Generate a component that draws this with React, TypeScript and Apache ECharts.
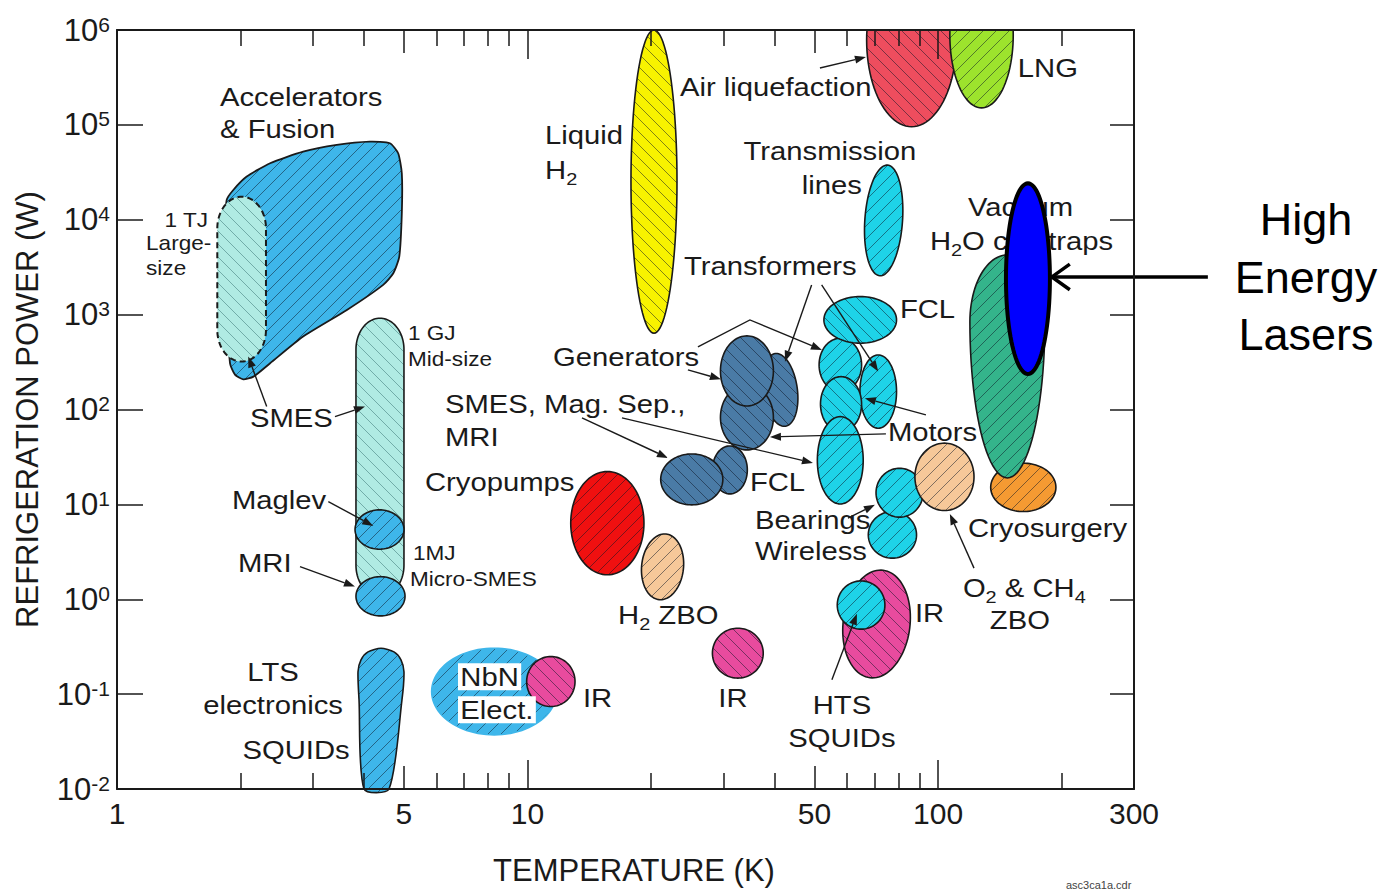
import React, { useEffect, useRef } from "react";
import * as echarts from "echarts";

const FONT = "'Liberation Sans', Arial, Helvetica, sans-serif";
const INK = "#1a1a1a";

// ---------- axes ----------
const T_MAX = 300;
const P_MIN_EXP = -2;
const P_MAX_EXP = 6;
const X_LABELS = [1, 5, 10, 50, 100, 300];
const X_MAJOR_TICKS = [1, 10, 100];
const X_MID_TICKS = [5, 50];
const X_MINOR_TICKS = [2, 3, 4, 6, 7, 8, 9, 20, 30, 40, 60, 70, 80, 90, 200];

// ---------- regions (temperature K, refrigeration power W) ----------
const ACCEL_FUSION: number[][] = [
  [1.85, 1.62e4], [1.92, 2.06e4], [2.07, 2.85e4], [2.36, 3.94e4], [2.84, 5.22e4],
  [3.43, 6.14e4], [4.13, 6.65e4], [4.62, 6.4e4], [4.84, 5.02e4], [4.94, 3.09e4],
  [4.94, 1.17e4], [4.87, 4.08e3], [4.71, 2.73e3], [4.45, 2.06e3], [3.63, 1.12e3],
  [2.84, 587], [2.36, 307], [2.15, 222], [2.03, 208], [1.94, 232], [1.885, 307],
  [1.825, 2.32e3], [1.832, 7.81e3],
];

const LTS_SQUIDS: number[][] = [
  [3.996, 0.01], [3.886, 0.0871], [3.864, 0.172], [3.929, 0.23], [4.087, 0.279],
  [4.395, 0.304], [4.727, 0.279], [4.917, 0.23], [5.0, 0.172], [4.944, 0.0871], [4.597, 0.01],
];

// [id, T min, T max, P min, P max] in drawing order
const REGIONS: [string, number, number, number, number][] = [
  ["smesTJ", 1.755, 2.306, 320, 1.75e4],
  ["smesGJ", 3.82, 5.0, 1.07, 916],
  ["maglev", 3.8, 5.0, 3.37, 8.75],
  ["mriLow", 3.82, 5.03, 0.668, 1.73],
  ["nbn", 5.84, 11.78, 0.0372, 0.305],
  ["irNbn", 9.95, 13.05, 0.074, 0.249],
  ["irMid", 28.2, 37.5, 0.1475, 0.495],
  ["liquidH2", 17.86, 23.12, 637, 1.0e6],
  ["airLiq", 66.97, 110.9, 9.57e4, 6.46e6],
  ["lng", 106.8, 152.4, 1.51e5, 5.2e6],
  ["transLines", 66.3, 81.9, 2.56e3, 3.78e4],
  ["cryosurgery", 134.3, 193.6, 8.4, 27.2],
  ["vacuum", 119.5, 182, 19.0, 4.26e3],
  ["wireless", 67.6, 88.6, 2.71, 8.4],
  ["bearings", 70.6, 91.9, 7.33, 24.0],
  ["o2ch4", 87.8, 122.3, 8.61, 44.2],
  ["irBig", 58.7, 85.4, 0.1475, 2.04],
  ["htsSquid", 56.8, 74.2, 0.484, 1.56],
  ["cryopumps", 12.74, 19.21, 1.81, 22.2],
  ["h2zbo", 18.96, 23.98, 0.986, 4.89],
  ["genB", 37.5, 45.4, 66.1, 392],
  ["genC", 29.5, 39.7, 37.5, 181.6],
  ["genA", 29.5, 39.7, 109, 597],
  ["fclDark", 28.2, 34.3, 12.9, 41.3],
  ["smesDark", 21.1, 29.9, 9.88, 34.0],
  ["motorR", 64.5, 79.2, 63.5, 376],
  ["motorB", 51.3, 65.1, 154.5, 564],
  ["motorD", 51.7, 65.1, 58.5, 222],
  ["motorE", 50.8, 65.7, 10.1, 84.1],
  ["fclCyan", 52.7, 79.2, 500, 1549],
];

const LASER: [number, number, number, number] = [146.3, 187.2, 237, 2.42e4];

// [text, T, P, anchor, kind]
const LABELS: [string, number, number, string, string][] = [
  ["Accelerators", 1.782, 1.97e5, "left", "big"],
  ["& Fusion", 1.782, 9.05e4, "left", "big"],
  ["Liquid", 11.03, 7.83e4, "left", "big"],
  ["H{sub|2}", 11.03, 3.35e4, "left", "big"],
  ["Air liquefaction", 23.5, 2.51e5, "left", "big"],
  ["LNG", 156.4, 3.98e5, "left", "big"],
  ["Transmission", 54.5, 5.31e4, "center", "big"],
  ["lines", 65.2, 2.33e4, "right", "big"],
  ["Vacuum", 118.2, 1.364e4, "left", "big"],
  ["H{sub|2}O cryotraps", 95.5, 5.98e3, "left", "big"],
  ["Transformers", 24.04, 3.26e3, "left", "big"],
  ["FCL", 80.7, 1.148e3, "left", "big"],
  ["Generators", 11.53, 358, "left", "big"],
  ["SMES, Mag. Sep.,", 6.293, 114.6, "left", "big"],
  ["MRI", 6.293, 51.4, "left", "big"],
  ["Motors", 75.45, 58.1, "left", "big"],
  ["Cryopumps", 5.625, 17.26, "left", "big"],
  ["FCL", 34.8, 17.26, "left", "big"],
  ["Bearings", 35.79, 6.87, "left", "big"],
  ["Wireless", 35.79, 3.236, "left", "big"],
  ["Cryosurgery", 118.2, 5.65, "left", "big"],
  ["Maglev", 1.906, 11.15, "left", "big"],
  ["SMES", 2.108, 81.5, "left", "big"],
  ["MRI", 1.971, 2.419, "left", "big"],
  ["O{sub|2} & CH{sub|4}", 114.9, 1.318, "left", "big"],
  ["ZBO", 158.2, 0.607, "center", "big"],
  ["H{sub|2} ZBO", 16.61, 0.685, "left", "big"],
  ["IR", 87.8, 0.719, "left", "big"],
  ["LTS", 2.399, 0.172, "center", "big"],
  ["electronics", 2.399, 0.0772, "center", "big"],
  ["SQUIDs", 2.729, 0.0259, "center", "big"],
  ["NbN", 6.77, 0.152, "left", "boxed"],
  ["Elect.", 6.77, 0.0683, "left", "boxed"],
  ["IR", 13.64, 0.0914, "left", "big"],
  ["IR", 31.64, 0.0914, "center", "big"],
  ["HTS", 58.31, 0.0772, "center", "big"],
  ["SQUIDs", 58.31, 0.0346, "center", "big"],
  ["1 TJ", 1.666, 9.95e3, "right", "small"],
  ["Large-", 1.177, 5.56e3, "left", "small"],
  ["size", 1.177, 3.1e3, "left", "small"],
  ["1 GJ", 5.113, 626, "left", "small"],
  ["Mid-size", 5.113, 333, "left", "small"],
  ["1MJ", 5.259, 3.008, "left", "small"],
  ["Micro-SMES", 5.171, 1.601, "left", "small"],
  ["High", 787, 9.95e3, "center", "huge"],
  ["Energy", 787, 2.44e3, "center", "huge"],
  ["Lasers", 787, 611, "center", "huge"],
  ["asc3ca1a.cdr", 204.8, 9.78e-4, "left", "tiny"],
];

// pointer arrows: list of [T, P] vertices, head at the last vertex
const ARROWS: number[][][] = [
  [[51.54, 3.98e5], [66.71, 5.19e5]],
  [[2.315, 107.3], [2.088, 361]],
  [[3.396, 84.2], [4.018, 107.3]],
  [[3.271, 10.7], [4.209, 5.93]],
  [[2.791, 2.211], [3.798, 1.361]],
  [[24.58, 261.4], [29.58, 208.6]],
  [[49.19, 2056], [42.36, 319.6]],
  [[52.04, 2056], [71.47, 250.8]],
  [[26.0, 456.6], [34.8, 879.6], [52.12, 424.6]],
  [[13.57, 81.5], [21.98, 30.9]],
  [[16.98, 81.5], [49.56, 27.37]],
  [[74.62, 55.3], [38.94, 51.4]],
  [[93.39, 87.7], [66.32, 131.6]],
  [[60.3, 7.153], [70.17, 9.88]],
  [[122.3, 2.127], [106.8, 7.94]],
  [[55.12, 0.1415], [63.42, 0.702]],
];
const LASER_ARROW: number[][] = [[454, 2496], [189.3, 2496]];

// ---------- styles ----------
type RS = { fill: string; hatch: string; shape?: string; tilt?: number; dash?: boolean; stroke?: string; egg?: number };
const BLUE = "#3eb6ea", PALE = "#b0ebe3", CYAN = "#1ed3e8", NAVY = "#4a7ba6", PINK = "#e84b9e", TAN = "#f6c899";
const REGION_STYLE: Record<string, RS> = {
  smesTJ: { fill: PALE, hatch: "\\", shape: "cap", dash: true },
  smesGJ: { fill: PALE, hatch: "\\", shape: "cap" },
  maglev: { fill: BLUE, hatch: "/" },
  mriLow: { fill: BLUE, hatch: "/" },
  nbn: { fill: BLUE, hatch: "/", stroke: BLUE },
  irNbn: { fill: PINK, hatch: "\\" },
  irMid: { fill: PINK, hatch: "\\" },
  liquidH2: { fill: "#f8f300", hatch: "\\" },
  airLiq: { fill: "#ee4d5e", hatch: "\\" },
  lng: { fill: "#9de32d", hatch: "/" },
  transLines: { fill: CYAN, hatch: "/", tilt: 4 },
  cryosurgery: { fill: "#f59a32", hatch: "/" },
  vacuum: { fill: "#34b48b", hatch: "/", egg: 0.3 },
  wireless: { fill: CYAN, hatch: "/" },
  bearings: { fill: CYAN, hatch: "/" },
  o2ch4: { fill: TAN, hatch: "/" },
  irBig: { fill: PINK, hatch: "\\", tilt: 7 },
  htsSquid: { fill: CYAN, hatch: "/" },
  cryopumps: { fill: "#f01010", hatch: "/" },
  h2zbo: { fill: TAN, hatch: "/", tilt: 6 },
  genB: { fill: NAVY, hatch: "\\", tilt: -8 },
  genC: { fill: NAVY, hatch: "\\" },
  genA: { fill: NAVY, hatch: "\\" },
  fclDark: { fill: NAVY, hatch: "\\" },
  smesDark: { fill: NAVY, hatch: "\\" },
  motorR: { fill: CYAN, hatch: "/" },
  motorB: { fill: CYAN, hatch: "/" },
  motorD: { fill: CYAN, hatch: "\\" },
  motorE: { fill: CYAN, hatch: "/" },
  fclCyan: { fill: CYAN, hatch: "\\" },
};
const KINDS: Record<string, { size: number; sx: number; fill: string; box?: boolean }> = {
  big: { size: 25, sx: 1.17, fill: INK },
  boxed: { size: 25, sx: 1.17, fill: INK, box: true },
  small: { size: 20, sx: 1.13, fill: INK },
  huge: { size: 45, sx: 1, fill: "#000" },
  tiny: { size: 11, sx: 1, fill: "#444" },
};

const lg = Math.log10;

function outline(cx: number, cy: number, rx: number, ry: number, st: RS) {
  const pts: number[][] = [];
  const N = 96;
  if (st.shape === "cap") {
    const capH = Math.min(ry, rx * 1.3);
    const h = ry - capH;
    for (let i = 0; i <= N / 2; i++) {
      const a = Math.PI + (Math.PI * i) / (N / 2);
      pts.push([cx + rx * Math.cos(a), cy - h + capH * Math.sin(a)]);
    }
    for (let i = 0; i <= N / 2; i++) {
      const a = (Math.PI * i) / (N / 2);
      pts.push([cx + rx * Math.cos(a), cy + h + capH * Math.sin(a)]);
    }
  } else if (st.egg) {
    const top = cy - ry, H = 2 * ry;
    const yw = top + st.egg * H;
    const rT = yw - top, rB = top + H - yw;
    for (let i = 0; i < N; i++) {
      const a = (2 * Math.PI * i) / N;
      const s = Math.sin(a);
      pts.push([cx + rx * Math.cos(a), yw + (s < 0 ? rT : rB) * s]);
    }
  } else {
    for (let i = 0; i < N; i++) {
      const a = (2 * Math.PI * i) / N;
      pts.push([cx + rx * Math.cos(a), cy + ry * Math.sin(a)]);
    }
  }
  if (st.tilt) {
    const r = (st.tilt * Math.PI) / 180, c = Math.cos(r), s = Math.sin(r);
    return pts.map(([x, y]) => {
      const dx = x - cx, dy = y - cy;
      return [cx + dx * c - dy * s, cy + dx * s + dy * c];
    });
  }
  return pts;
}

const patternCache: Record<string, any> = {};
function hatch(fill: string, dir: string) {
  const key = fill + dir;
  if (patternCache[key]) return patternCache[key];
  const s = 13;
  const c = document.createElement("canvas");
  c.width = s; c.height = s;
  const g = c.getContext("2d")!;
  g.fillStyle = fill;
  g.fillRect(0, 0, s, s);
  if (dir) {
    g.strokeStyle = fill === PALE ? "rgba(50,110,110,0.5)" : "rgba(10,20,35,0.5)";
    g.lineWidth = 1;
    g.beginPath();
    for (let k = -1; k <= 1; k++) {
      if (dir === "/") { g.moveTo(k * s, s); g.lineTo(k * s + s, 0); }
      else { g.moveTo(k * s, 0); g.lineTo(k * s + s, s); }
    }
    g.stroke();
  }
  const p = { image: c.toDataURL(), repeat: "repeat", imageWidth: s, imageHeight: s };
  patternCache[key] = p;
  return p;
}

function clampY(pts: number[][], cs: any) {
  return pts.map(([x, y]) => [x, Math.max(cs.y, Math.min(cs.y + cs.height, y))]);
}

function buildOption() {
  const tickStyle = { color: INK, width: 1.5 };
  const lineStyle = { color: INK, width: 2 };
  const xBase: any = {
    type: "value", min: 0, max: lg(T_MAX), z: 50,
    splitLine: { show: false }, axisLabel: { show: false },
    axisLine: { show: false, onZero: false },
  };
  const xAxes: any[] = [];
  (["bottom", "top"] as const).forEach((pos) => {
    xAxes.push({
      ...xBase, position: pos,
      axisLine: { show: true, onZero: false, lineStyle },
      axisTick: { inside: true, length: 29, customValues: X_MAJOR_TICKS.map(lg), lineStyle: tickStyle },
      ...(pos === "bottom"
        ? {
            axisLabel: {
              show: true, customValues: X_LABELS.map(lg),
              formatter: (v: number) => String(Math.round(Math.pow(10, v))),
              fontSize: 30, fontFamily: FONT, color: INK, margin: 9,
            },
            name: "TEMPERATURE (K)", nameLocation: "middle", nameGap: 66,
            nameTextStyle: { fontSize: 31, fontFamily: FONT, color: INK, padding: [0, 0, 0, 17] },
          }
        : {}),
    });
    xAxes.push({ ...xBase, position: pos, axisTick: { inside: true, length: 23, customValues: X_MID_TICKS.map(lg), lineStyle: tickStyle } });
    xAxes.push({ ...xBase, position: pos, axisTick: { inside: true, length: 16, customValues: X_MINOR_TICKS.map(lg), lineStyle: tickStyle } });
  });

  const yAxes: any[] = [
    {
      type: "value", min: P_MIN_EXP, max: P_MAX_EXP, interval: 1, position: "left", z: 50,
      axisLine: { show: true, onZero: false, lineStyle },
      axisTick: { inside: true, length: 26, lineStyle: tickStyle },
      splitLine: { show: false },
      axisLabel: {
        margin: 7,
        formatter: (v: number) => `{b|10}{s|${v}}`,
        rich: {
          b: { fontSize: 31, fontFamily: FONT, color: INK },
          s: { fontSize: 21, fontFamily: FONT, color: INK, verticalAlign: "top", padding: [0, 0, 12, 0] },
        },
      },
      name: "REFRIGERATION POWER (W)", nameLocation: "middle", nameGap: 74,
      nameTextStyle: { fontSize: 31, fontFamily: FONT, color: INK },
    },
    {
      type: "value", min: P_MIN_EXP, max: P_MAX_EXP, interval: 1, position: "right", z: 50,
      axisLine: { show: true, onZero: false, lineStyle },
      axisTick: { inside: true, length: 24, lineStyle: tickStyle },
      axisLabel: { show: false }, splitLine: { show: false },
    },
  ];

  const common = { type: "custom", coordinateSystem: "cartesian2d", xAxisIndex: 0, yAxisIndex: 0, silent: true, animation: false };

  const accelSeries = {
    ...common, z: 2,
    data: [[lg(3), lg(3000)]],
    renderItem: (_p: any, api: any) => ({
      type: "polygon",
      shape: { points: ACCEL_FUSION.map(([t, p]) => api.coord([lg(t), lg(p)])), smooth: 0.2 },
      style: { fill: hatch(BLUE, "/"), stroke: INK, lineWidth: 1.8 },
    }),
  };

  const ltsSeries = {
    ...common, z: 3,
    data: [[lg(4.4), lg(0.05)]],
    renderItem: (_p: any, api: any) => ({
      type: "polygon",
      shape: { points: LTS_SQUIDS.map(([t, p]) => api.coord([lg(t), lg(p)])), smooth: 0.25 },
      style: { fill: hatch(BLUE, "/"), stroke: INK, lineWidth: 1.6 },
    }),
  };

  const regionSeries = {
    ...common, z: 3,
    data: REGIONS.map((r, i) => [(lg(r[1]) + lg(r[2])) / 2, (lg(r[3]) + lg(r[4])) / 2, i]),
    renderItem: (params: any, api: any) => {
      const i = api.value(2);
      const r = REGIONS[i];
      const st = REGION_STYLE[r[0]];
      const a = api.coord([lg(r[1]), lg(r[3])]);
      const b = api.coord([lg(r[2]), lg(r[4])]);
      const cx = (a[0] + b[0]) / 2, cy = (a[1] + b[1]) / 2;
      const rx = Math.abs(b[0] - a[0]) / 2, ry = Math.abs(a[1] - b[1]) / 2;
      const pts = clampY(outline(cx, cy, rx, ry, st), params.coordSys);
      return {
        type: "polygon", z2: i,
        shape: { points: pts },
        style: {
          fill: hatch(st.fill, st.hatch),
          stroke: st.stroke || INK,
          lineWidth: st.dash ? 2 : 1.6,
          lineDash: st.dash ? [6, 4] : null,
        },
      };
    },
  };

  const arrowSeries = {
    ...common, z: 5,
    data: ARROWS.map((ar, i) => [lg(ar[0][0]), lg(ar[0][1]), i]),
    renderItem: (_p: any, api: any) => {
      const pts = ARROWS[api.value(2)].map(([t, p]) => api.coord([lg(t), lg(p)]));
      const n = pts.length;
      const [x1, y1] = pts[n - 2];
      const [x2, y2] = pts[n - 1];
      const ang = Math.atan2(y2 - y1, x2 - x1);
      const L = 11, W = 4;
      const c = Math.cos(ang), s = Math.sin(ang);
      const bx = x2 - L * c, by = y2 - L * s;
      const line = pts.slice(0, n - 1).concat([[bx, by]]);
      return {
        type: "group",
        children: [
          { type: "polyline", shape: { points: line }, style: { stroke: INK, lineWidth: 1.4, fill: null } },
          { type: "polygon", shape: { points: [[x2, y2], [bx - W * s, by + W * c], [bx + W * s, by - W * c]] }, style: { fill: INK } },
        ],
      };
    },
  };

  const labelSeries = {
    ...common, z: 6,
    data: LABELS.map((l, i) => [lg(l[1]), lg(l[2]), i]),
    renderItem: (_p: any, api: any) => {
      const [text, t, p, align, kind] = LABELS[api.value(2)];
      const k = KINDS[kind];
      const [x, y] = api.coord([lg(t), lg(p)]);
      return {
        type: "text", x, y, scaleX: k.sx,
        style: {
          text, fontSize: k.size, fontFamily: FONT, fill: k.fill,
          align, verticalAlign: "middle",
          backgroundColor: k.box ? "#ffffff" : undefined,
          padding: k.box ? [1, 2, 1, 2] : undefined,
          rich: {
            sub: {
              fontSize: Math.round(k.size * 0.68), fontFamily: FONT, fill: k.fill,
              padding: [Math.round(k.size * 0.72), 0, 0, 0],
            },
          },
        },
      };
    },
  };

  const laserSeries = {
    ...common, z: 8,
    data: [[(lg(LASER[0]) + lg(LASER[1])) / 2, (lg(LASER[2]) + lg(LASER[3])) / 2]],
    renderItem: (_p: any, api: any) => {
      const a = api.coord([lg(LASER[0]), lg(LASER[2])]);
      const b = api.coord([lg(LASER[1]), lg(LASER[3])]);
      const cx = (a[0] + b[0]) / 2, cy = (a[1] + b[1]) / 2;
      const pts = outline(cx, cy, Math.abs(b[0] - a[0]) / 2, Math.abs(a[1] - b[1]) / 2, { fill: "", hatch: "" });
      const [s0, s1] = LASER_ARROW.map(([t, p]) => api.coord([lg(t), lg(p)]));
      const ang = Math.atan2(s1[1] - s0[1], s1[0] - s0[0]);
      const L = 22, spread = 0.62;
      const h1 = [s1[0] - L * Math.cos(ang - spread), s1[1] - L * Math.sin(ang - spread)];
      const h2 = [s1[0] - L * Math.cos(ang + spread), s1[1] - L * Math.sin(ang + spread)];
      return {
        type: "group",
        children: [
          { type: "polygon", shape: { points: pts }, style: { fill: "#0000ff", stroke: "#000", lineWidth: 4 } },
          { type: "polyline", shape: { points: [s0, s1] }, style: { stroke: "#000", lineWidth: 3.5, fill: null } },
          { type: "polyline", shape: { points: [h1, s1, h2] }, style: { stroke: "#000", lineWidth: 3.5, fill: null } },
        ],
      };
    },
  };

  return {
    animation: false,
    backgroundColor: "#ffffff",
    grid: { left: 117, right: 263, top: 30, bottom: 102, containLabel: false, outerBoundsMode: "none" },
    xAxis: xAxes,
    yAxis: yAxes,
    series: [accelSeries, regionSeries, ltsSeries, arrowSeries, labelSeries, laserSeries],
  };
}

export default function App() {
  const ref = useRef<HTMLDivElement>(null);
  useEffect(() => {
    if (!ref.current) return;
    const chart = echarts.init(ref.current, null, { renderer: "svg" });
    chart.setOption(buildOption() as any);
    return () => chart.dispose();
  }, []);
  return (
    <div
      ref={ref}
      style={{ position: "absolute", left: 0, top: 0, width: 1397, height: 891, background: "#fff" }}
    />
  );
}
